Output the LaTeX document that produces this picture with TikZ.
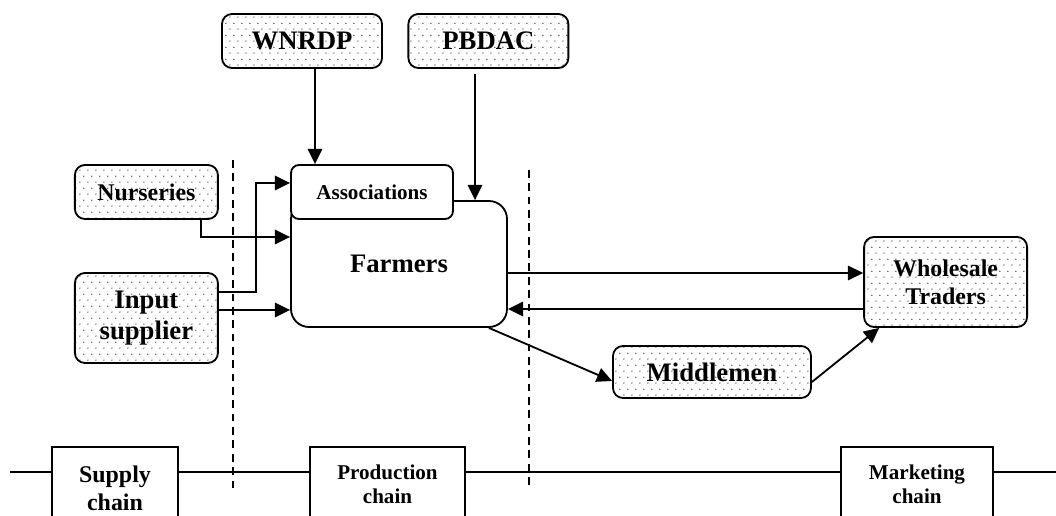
\documentclass[tikz,border=0pt]{standalone}
\usepackage{fontspec}
\setmainfont{Liberation Serif}
\usetikzlibrary{arrows.meta,patterns.meta}

\tikzdeclarepattern{
	name=fdots,
	type=uncolored,
	bounding box={(0pt,0pt) and (5.6pt,8.4pt)},
	tile size={(5.6pt,8.4pt)},
	code={
		\pgfpathcircle{\pgfpoint{1.4pt}{2.1pt}}{0.5pt}
		\pgfpathcircle{\pgfpoint{4.2pt}{6.3pt}}{0.5pt}
		\pgfusepath{fill}
	}
}

\begin{document}
\begin{tikzpicture}[
	every node/.style={align=center},
	txtbig/.style={font=\fontsize{19}{22}\selectfont\bfseries},
	txtmid/.style={font=\fontsize{17}{20}\selectfont\bfseries},
	txtsmall/.style={font=\fontsize{15}{17}\selectfont\bfseries},
	dotbox/.style={draw, line width=1.3pt, rounded corners=0.25cm, pattern=fdots, pattern color=black!75, inner sep=2pt},
	plainbox/.style={draw, fill=white, line width=1.3pt, inner sep=2pt},
	link/.style={line width=1.3pt, -{Triangle[length=3.8mm,width=3.6mm]}},
	divider/.style={line width=1.3pt, dash pattern=on 5.5pt off 4pt}
	]
	\useasboundingbox (0,0) rectangle (26.4,12.9);
	
	% Chain line and dividers
	\coordinate (lineL) at (0.25,1.1);
	\coordinate (lineR) at (26.4,1.1);
	\draw[line width=1.3pt] (lineL) -- (lineR);
	\draw[divider] (5.825,8.9) -- (5.825,0.575);
	\draw[divider] (13.225,8.65) -- (13.225,0.65);
	
	% Chain boxes
	\node[plainbox, txtmid, minimum width=3.15cm, minimum height=2.05cm] (supply) at (2.875,0.7) {Supply\\chain};
	\node[plainbox, txtsmall, minimum width=3.875cm, minimum height=1.85cm] (prod) at (9.6875,0.8) {Production\\chain};
	\node[plainbox, txtsmall, minimum width=3.8cm, minimum height=1.85cm] (mark) at (22.925,0.8) {Marketing\\chain};
	
	% Agencies
	\node[dotbox, txtbig, minimum width=4cm, minimum height=1.35cm] (wnrdp) at (7.55,11.875) {WNRDP};
	\node[dotbox, txtbig, minimum width=4cm, minimum height=1.35cm] (pbdac) at (12.21,11.875) {PBDAC};
	
	% Supply side
	\node[dotbox, txtmid, minimum width=3.575cm, minimum height=1.35cm] (nurs) at (3.66,8.1) {Nurseries};
	\node[dotbox, txtbig, minimum width=3.575cm, minimum height=2.25cm] (input) at (3.66,4.95) {Input\\supplier};
	
	% Farmers and associations
	\node[draw, line width=1.3pt, rounded corners=0.45cm, txtbig, minimum width=5.4cm, minimum height=3.15cm] (farmers) at (9.975,6.3) {Farmers};
	\node[draw, fill=white, line width=1.3pt, rounded corners=0.2cm, txtsmall, minimum width=4.05cm, minimum height=1.35cm] (assoc) at (9.3,8.1) {Associations};
	
	% Market side
	\node[dotbox, txtmid, minimum width=4.075cm, minimum height=2.25cm] (wsale) at (23.64,5.85) {Wholesale\\Traders};
	\node[dotbox, txtbig, minimum width=4.95cm, minimum height=1.3cm] (midd) at (17.8,3.6) {Middlemen};
	
	% Flows
	\draw[link] ([xshift=3.25mm]wnrdp.south) -- ([xshift=3.25mm]wnrdp.south |- assoc.north);
	\draw[link] ([xshift=-3.35mm,yshift=-1.25mm]pbdac.south) -- ([xshift=-3.35mm]pbdac.south |- farmers.north);
	\draw[link] ([xshift=13.6mm]nurs.south) |- ([yshift=6.75mm]farmers.west);
	\draw[link] ([yshift=6.5mm]input.east) -- ++(0.925,0) |- ([yshift=2.25mm]assoc.west);
	\draw[link] ([yshift=2mm]input.east) -- ([yshift=2mm]input.east -| farmers.west);
	\draw[link] ([yshift=-2.25mm]farmers.east) -- ([yshift=-2.25mm]farmers.east -| wsale.west);
	\draw[link] ([yshift=-6.75mm]wsale.west) -- ([yshift=-6.75mm]wsale.west -| farmers.east);
	\draw[link] ([xshift=-4.75mm]farmers.south east) -- ([yshift=-2.25mm]midd.west);
	\draw[link] ([yshift=-2.5mm]midd.east) -- ([xshift=4mm]wsale.south west);
\end{tikzpicture}
\end{document}
